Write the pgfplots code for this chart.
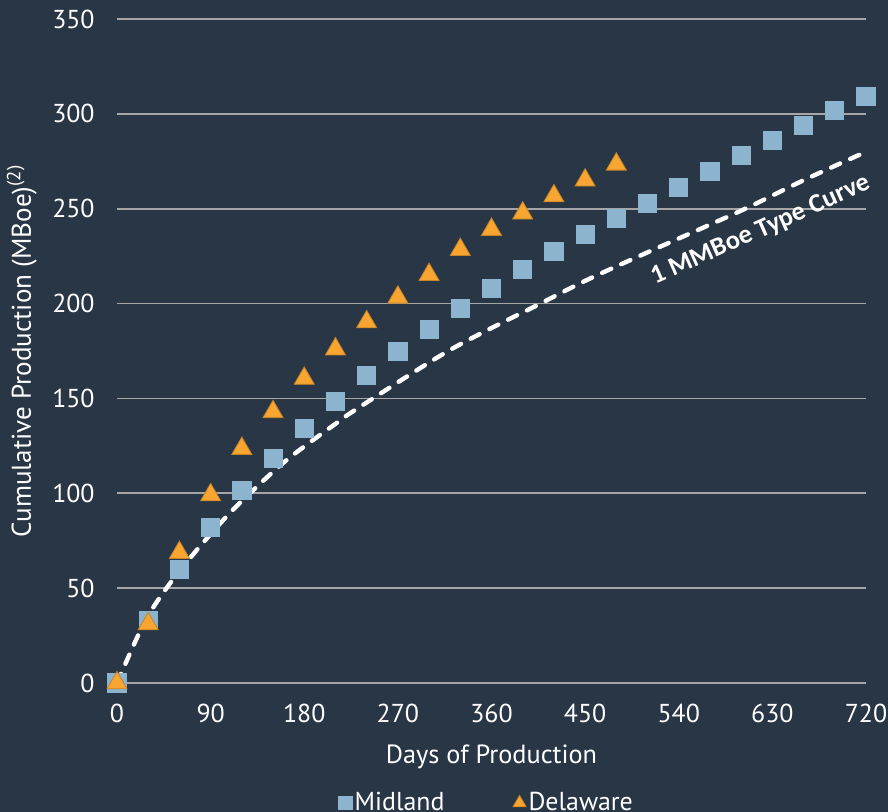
\documentclass[border=0pt]{standalone}
\usepackage{fontspec}
\setmainfont{PT Sans}
\newfontfamily\curvefont{Carlito}
\usepackage{pgfplots}
\pgfplotsset{compat=1.18}

\definecolor{bg}{HTML}{283646}
\definecolor{midland}{HTML}{8DB4CF}
\definecolor{delaware}{HTML}{F9A531}
\definecolor{gridc}{HTML}{A6A6A6}

\begin{document}
\begin{tikzpicture}
\fill[bg] (0,0) rectangle (444bp,406bp);
\useasboundingbox (0,0) rectangle (444bp,406bp);
\begin{axis}[
  at={(58.5bp,64.5bp)}, anchor=south west,
  scale only axis, width=374.5bp, height=332bp,
  xmin=0, xmax=720, ymin=0, ymax=350,
  xtick={0,90,...,720}, ytick={0,50,...,350},
  axis line style={draw=none}, major tick length=0pt,
  ymajorgrids, grid style={gridc, line width=0.8bp},
  clip=false,
  /pgf/number format/assume math mode=true,
  ticklabel style={text=white, font=\fontsize{13}{15}\selectfont},
  xticklabel style={inner sep=0pt, anchor=north, yshift=-10.5bp},
  yticklabel style={inner sep=0pt, anchor=east, xshift=-11bp},
  xlabel={Days of Production},
  ylabel={Cumulative Production (MBoe)\textsuperscript{(2)}},
  xlabel style={text=white, font=\fontsize{13.2}{15}\selectfont,
    at={(axis description cs:0.5,-0.1114)}, anchor=center},
  ylabel style={text=white, font=\fontsize{13.6}{15}\selectfont,
    at={(axis description cs:-0.127,0.5)}, anchor=center},
  legend style={at={(axis description cs:0.494,-0.1807)}, anchor=center,
    draw=none, fill=none, text=white, font=\fontsize{13}{15}\selectfont,
    legend columns=2, inner sep=0pt,
    /tikz/every even column/.append style={column sep=33bp},
    nodes={inner sep=1.2bp}},
  legend image code/.code={\draw[#1] plot coordinates {(0.12cm,0cm)};},
]

% 1 MMBoe type curve
\addplot[white, line width=2.2bp, line cap=round, dash pattern=on 5bp off 5.5bp, smooth, forget plot]
  coordinates {
  (0,0) (12,15) (22,27) (35,40) (53,54) (75,69) (99,84) (121,96.5)
  (163,117.5) (211,137) (232,145) (320,175.5) (407,200) (452,212.5)
  (510,227) (600,249) (660,265) (720,280)
  };

% Midland wells
\addplot[only marks, mark=square*, mark size=4.55bp,
  mark options={fill=midland, draw=midland, line width=0.4bp},
  legend image post style={mark size=3.4bp}]
  coordinates {
  (0,0) (30,33) (60,59.9) (90,82.1) (120,101.5) (150,118.4) (180,134.3)
  (210,148.5) (240,162.2) (270,174.8) (300,186.4) (330,197.5) (360,208)
  (390,218) (420,227.6) (450,236.5) (480,245) (510,252.9) (540,261.3)
  (570,269.6) (600,278.2) (630,286.1) (660,294) (690,301.9) (720,309.3)
  };
\addlegendentry{Midland}

% Delaware wells
\addplot[only marks, mark=triangle*, mark size=5.8bp,
  mark options={fill=delaware, draw=delaware!80!black, line width=0.4bp},
  legend image post style={mark size=3.8bp}]
  coordinates {
  (0,0) (30,31.1) (60,68.7) (90,99.1) (120,123.5) (150,142.9) (180,160.5)
  (210,176) (240,190.3) (270,203.3) (300,215.2) (330,228.4) (360,239)
  (390,247.6) (420,256.7) (450,265) (480,273.4)
  };
\addlegendentry{Delaware}

% label set just below the dashed curve, following its slope
\node[text=white, rotate=24, anchor=center,
  font=\curvefont\bfseries\fontsize{13.3}{15}\selectfont]
  at (axis cs:619,238.5) {1 MMBoe Type Curve};
\end{axis}
\end{tikzpicture}
\end{document}
